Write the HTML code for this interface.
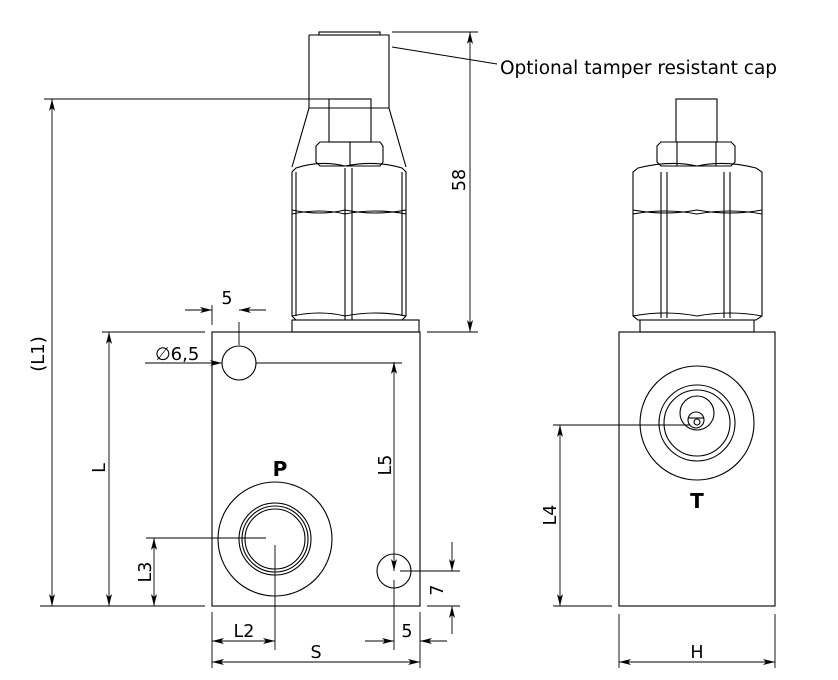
<!DOCTYPE html>
<html><head><meta charset="utf-8"><style>
html,body{margin:0;padding:0;background:#fff}
svg{display:block}
text{font-family:"DejaVu Sans","Liberation Sans",sans-serif;fill:#000}
</style></head><body>
<svg width="838" height="680" viewBox="0 0 838 680" xmlns="http://www.w3.org/2000/svg">
<defs>
<marker id="a" viewBox="0 0 12 6" refX="12" refY="3" markerWidth="12" markerHeight="6" orient="auto-start-reverse" markerUnits="userSpaceOnUse"><path d="M0,0 L12,3 L0,6 L3,3 z" fill="#000"/></marker>
</defs>
<g fill="none" stroke="#000" stroke-width="1.1">
<!-- LEFT VIEW -->
<rect x="212" y="332" width="208" height="274"/>
<circle cx="239" cy="363" r="17"/>
<circle cx="394" cy="571" r="17"/>
<circle cx="275" cy="539" r="57"/>
<circle cx="275" cy="539" r="36"/>
<circle cx="275" cy="539" r="33"/>
<circle cx="275" cy="539" r="30"/>
<!-- valve -->
<rect x="319" y="32" width="61" height="3"/>
<path d="M309,35 H389 V108 L406,167 M309,35 V108 L292,167"/>
<line x1="309" y1="108" x2="389" y2="108"/>
<rect x="329" y="99" width="42" height="43"/>
<path d="M320,142 H380 L383,146 V162 L380,166 H320 L316,162 V146 Z"/>
<line x1="350" y1="142" x2="350" y2="166"/>
<path d="M296,168 Q320,160 345,166 Q375,160 402,168 L406,172 V316 L402,320 H296 L292,316 V172 Z"/>
<path d="M292,210 Q320,216 345,210 Q375,216 406,210"/>
<path d="M292,214 Q320,208 345,214 Q375,208 406,214"/>
<path d="M292,316 Q320,310 345,316 Q375,310 406,316"/>
<line x1="345" y1="168" x2="345" y2="320"/><line x1="352" y1="168" x2="352" y2="320"/>
<line x1="296" y1="172" x2="296" y2="316"/><line x1="402" y1="172" x2="402" y2="316"/>
<rect x="292" y="320" width="127" height="12"/>
<!-- RIGHT VIEW -->
<rect x="619" y="332" width="156" height="274"/>
<rect x="640" y="320" width="114" height="12"/>
<path d="M638,168 Q670,160 697,166 Q725,160 756,168 L762,172 V316 L756,320 H638 L633,316 V172 Z"/>
<path d="M633,210 Q665,216 697,210 Q730,216 762,210"/>
<path d="M633,214 Q665,208 697,214 Q730,208 762,214"/>
<path d="M633,316 Q665,310 697,316 Q730,310 762,316"/>
<line x1="661" y1="172" x2="661" y2="318"/><line x1="667" y1="172" x2="667" y2="318"/>
<line x1="724" y1="172" x2="724" y2="318"/><line x1="730" y1="172" x2="730" y2="318"/>
<path d="M661,142 H731 L735,146 V162 L731,166 H661 L657,162 V146 Z"/>
<line x1="677" y1="142" x2="677" y2="166"/><line x1="716" y1="142" x2="716" y2="166"/>
<rect x="676" y="99" width="41" height="43"/>
<circle cx="697" cy="423" r="57"/>
<circle cx="697" cy="423" r="38"/>
<circle cx="697" cy="423" r="33"/>
<circle cx="697" cy="413" r="17"/>
<circle cx="696" cy="420" r="8"/>
<circle cx="697" cy="422" r="3"/>
<line x1="688" y1="418" x2="704" y2="418"/>
</g>
<g fill="none" stroke="#000" stroke-width="0.9">
<line x1="392" y1="47" x2="497" y2="64"/>
<line x1="392" y1="32" x2="478" y2="32"/>
<line x1="427" y1="332" x2="478" y2="332"/>
<line x1="44" y1="99" x2="370" y2="99"/>
<line x1="40" y1="606" x2="205" y2="606"/>
<line x1="102" y1="332" x2="205" y2="332"/>
<line x1="146" y1="538" x2="266" y2="538"/>
<line x1="275" y1="545" x2="275" y2="650"/>
<line x1="239" y1="345" x2="239" y2="322"/>
<line x1="212" y1="325" x2="212" y2="305"/>
<line x1="256" y1="363" x2="402" y2="363"/>
<line x1="400" y1="571" x2="460" y2="571"/>
<line x1="427" y1="606" x2="460" y2="606"/>
<line x1="394" y1="580" x2="394" y2="650"/>
<line x1="212" y1="612" x2="212" y2="668"/>
<line x1="420" y1="612" x2="420" y2="668"/>
<line x1="553" y1="425" x2="690" y2="425"/>
<line x1="553" y1="606" x2="612" y2="606"/>
<line x1="619" y1="614" x2="619" y2="668"/>
<line x1="775" y1="614" x2="775" y2="668"/>
<line x1="470" y1="32" x2="470" y2="332" marker-start="url(#a)" marker-end="url(#a)"/>
<line x1="52" y1="99" x2="52" y2="606" marker-start="url(#a)" marker-end="url(#a)"/>
<line x1="109" y1="332" x2="109" y2="606" marker-start="url(#a)" marker-end="url(#a)"/>
<line x1="154" y1="538" x2="154" y2="606" marker-start="url(#a)" marker-end="url(#a)"/>
<line x1="394" y1="362" x2="394" y2="571" marker-start="url(#a)" marker-end="url(#a)"/>
<line x1="212" y1="641" x2="275" y2="641" marker-start="url(#a)" marker-end="url(#a)"/>
<line x1="212" y1="662" x2="420" y2="662" marker-start="url(#a)" marker-end="url(#a)"/>
<line x1="560" y1="425" x2="560" y2="606" marker-start="url(#a)" marker-end="url(#a)"/>
<line x1="619" y1="662" x2="775" y2="662" marker-start="url(#a)" marker-end="url(#a)"/>
<line x1="185" y1="310" x2="212" y2="310" marker-end="url(#a)"/>
<line x1="266" y1="310" x2="239" y2="310" marker-end="url(#a)"/>
<line x1="365" y1="641" x2="394" y2="641" marker-end="url(#a)"/>
<line x1="447" y1="641" x2="420" y2="641" marker-end="url(#a)"/>
<line x1="452" y1="542" x2="452" y2="571" marker-end="url(#a)"/>
<line x1="452" y1="634" x2="452" y2="606" marker-end="url(#a)"/>
<line x1="145" y1="363" x2="222" y2="363" marker-end="url(#a)"/>
</g>
<g font-size="17.5">
<text x="500" y="74" font-size="18.5">Optional tamper resistant cap</text>
<text x="227" y="304" text-anchor="middle">5</text>
<text x="155" y="360" font-size="18">∅6,5</text>
<text x="280" y="476" text-anchor="middle" font-size="20" font-weight="bold">P</text>
<text x="697" y="508" text-anchor="middle" font-size="20" font-weight="bold">T</text>
<text x="244" y="637" text-anchor="middle">L2</text>
<text x="316" y="658" text-anchor="middle">S</text>
<text x="407" y="637" text-anchor="middle">5</text>
<text x="697" y="658" text-anchor="middle">H</text>
<text transform="translate(465,180) rotate(-90)" text-anchor="middle">58</text>
<text transform="translate(105,468) rotate(-90)" text-anchor="middle">L</text>
<text transform="translate(151,572) rotate(-90)" text-anchor="middle">L3</text>
<text transform="translate(391,465) rotate(-90)" text-anchor="middle">L5</text>
<text transform="translate(443,590) rotate(-90)" text-anchor="middle">7</text>
<text transform="translate(556,515) rotate(-90)" text-anchor="middle">L4</text>
<text transform="translate(44,354) rotate(-90)" text-anchor="middle" font-size="18">(L1)</text>
</g>
</svg>
</body></html>
